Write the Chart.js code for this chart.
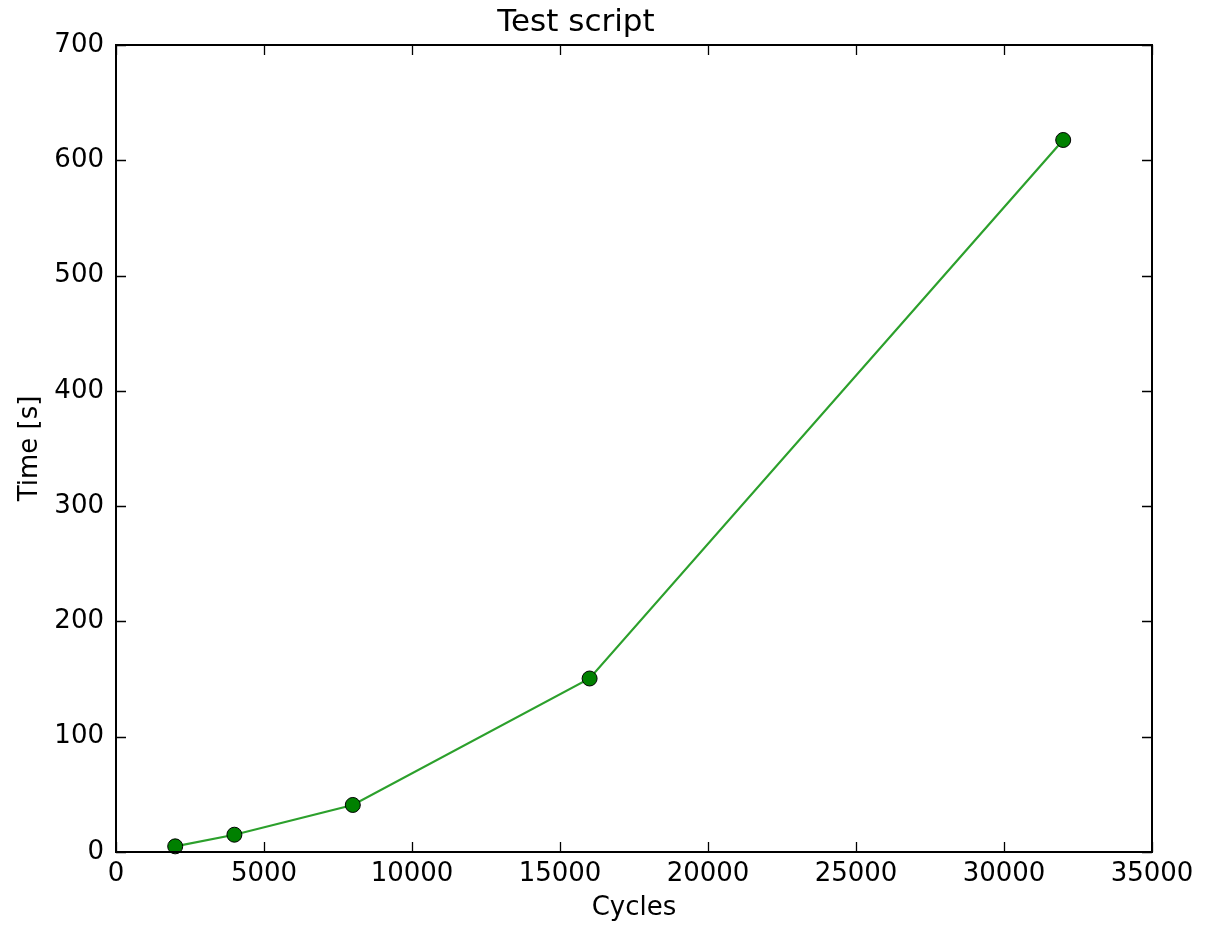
<!DOCTYPE html>
<html>
<head>
<meta charset="utf-8">
<title>Test script</title>
<script src="https://cdn.jsdelivr.net/npm/chart.js@4/dist/chart.umd.min.js"></script>
<style>
  html, body { margin: 0; padding: 0; background: #fff; }
  #chart { display: block; }
</style>
</head>
<body>
<canvas id="chart" width="1212" height="925"></canvas>
<script>
// Run time of the test script for increasing cycle counts
const cycles = [2000, 4000, 8000, 16000, 32000];
const timeSeconds = [4.9, 15.0, 40.8, 150.5, 617.6];

const xTickValues = [0, 5000, 10000, 15000, 20000, 25000, 30000, 35000];
const yTickValues = [0, 100, 200, 300, 400, 500, 600, 700];

const FONT = "'DejaVu Sans', sans-serif";

// Frame around the plot area plus inward tick marks on all four sides
const frameTicks = {
  id: 'frameTicks',
  afterDraw(chart) {
    const { ctx, chartArea: a } = chart;
    const xs = chart.scales.x, ys = chart.scales.y;
    const len = 10;
    ctx.save();
    ctx.strokeStyle = '#000';
    ctx.lineWidth = 1.3;
    ctx.beginPath();
    xs.ticks.forEach(t => {
      const px = Math.round(xs.getPixelForValue(t.value)) + 0.5;
      ctx.moveTo(px, a.bottom); ctx.lineTo(px, a.bottom - len);
      ctx.moveTo(px, a.top); ctx.lineTo(px, a.top + len);
    });
    ys.ticks.forEach(t => {
      const py = Math.round(ys.getPixelForValue(t.value)) + 0.5;
      ctx.moveTo(a.left, py); ctx.lineTo(a.left + len, py);
      ctx.moveTo(a.right, py); ctx.lineTo(a.right - len, py);
    });
    ctx.stroke();
    ctx.lineWidth = 2;
    ctx.strokeRect(a.left, a.top, a.right - a.left, a.bottom - a.top);
    ctx.restore();
  }
};

new Chart(document.getElementById('chart'), {
  type: 'line',
  data: {
    datasets: [{
      data: cycles.map((c, i) => ({ x: c, y: timeSeconds[i] })),
      borderColor: '#2ca02c',
      borderWidth: 2.2,
      tension: 0,
      pointRadius: 7.5,
      pointHoverRadius: 7.5,
      pointBackgroundColor: '#008000',
      pointBorderColor: '#000',
      pointBorderWidth: 1,
      fill: false,
      clip: false
    }]
  },
  options: {
    responsive: false,
    animation: false,
    events: [],
    layout: { padding: { left: 0, right: 60, top: 0, bottom: 0 } },
    plugins: {
      legend: { display: false },
      tooltip: { enabled: false },
      title: {
        display: true,
        text: 'Test script',
        color: '#000',
        font: { family: FONT, size: 31, weight: 'normal', lineHeight: 1.2 },
        padding: { top: 4, bottom: 3.8 }
      }
    },
    scales: {
      x: {
        type: 'linear',
        min: 0,
        max: 35000,
        afterBuildTicks(scale) { scale.ticks = xTickValues.map(v => ({ value: v })); },
        afterFit(scale) { scale.height = 73; },
        grid: { display: false, drawTicks: false },
        border: { display: false },
        ticks: {
          color: '#000',
          padding: 7,
          maxRotation: 0,
          autoSkip: false,
          font: { family: FONT, size: 26 },
          callback: v => String(v)
        },
        title: {
          display: true,
          text: 'Cycles',
          color: '#000',
          font: { family: FONT, size: 26, lineHeight: 1.2 },
          padding: { top: 0, bottom: 1 }
        }
      },
      y: {
        type: 'linear',
        min: 0,
        max: 700,
        afterBuildTicks(scale) { scale.ticks = yTickValues.map(v => ({ value: v })); },
        afterFit(scale) { scale.width = 116; },
        grid: { display: false, drawTicks: false },
        border: { display: false },
        ticks: {
          color: '#000',
          padding: 12,
          autoSkip: false,
          font: { family: FONT, size: 26 },
          callback: v => String(v)
        },
        title: {
          display: true,
          text: 'Time [s]',
          color: '#000',
          font: { family: FONT, size: 26, lineHeight: 1.2 },
          padding: { top: 15, bottom: 0 }
        }
      }
    }
  },
  plugins: [frameTicks]
});
</script>
</body>
</html>
